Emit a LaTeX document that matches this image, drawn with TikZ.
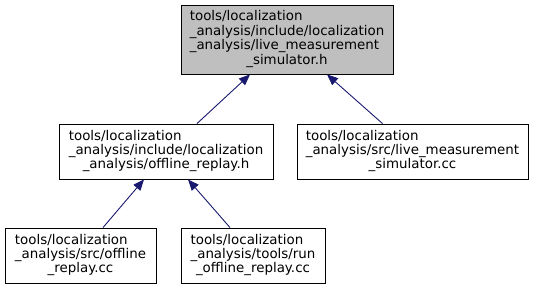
\documentclass[tikz,border=0pt]{standalone}
\usepackage{fontspec}
\setmainfont{DejaVu Sans}
\usetikzlibrary{arrows.meta}

\definecolor{edgeblue}{HTML}{191970}
\definecolor{focusgray}{HTML}{BFBFBF}

% Multi-line file label: all lines left aligned, last line centred
\newcommand{\flabel}[2]{%
  \begin{tabular}{@{}l@{}}#1\\\multicolumn{1}{@{}c@{}}{#2}\end{tabular}}

\tikzset{
  filebox/.style={draw=black, line width=0.9pt, fill=white, inner sep=0pt,
    font=\fontsize{13.4}{14}\selectfont, align=center},
  focusbox/.style={filebox, fill=focusgray},
  dep/.style={draw=edgeblue, line width=0.9pt,
    -{Triangle[length=11pt,width=9pt]}, shorten >=0pt}
}

\begin{document}
\begin{tikzpicture}[x=1pt,y=-1pt]
  \useasboundingbox (0,0) rectangle (534,289);

  \node[focusbox, minimum width=212pt, minimum height=69pt] (live) at (287,39.5)
    {\flabel{tools/localization\\\_analysis/include/localization\\\_analysis/live\_measurement}{\_simulator.h}};

  \node[filebox, minimum width=214pt, minimum height=55pt] (replayh) at (166,151.5)
    {\flabel{tools/localization\\\_analysis/include/localization}{\_analysis/offline\_replay.h}};

  \node[filebox, minimum width=231pt, minimum height=55pt] (livecc) at (412.5,151.5)
    {\flabel{tools/localization\\\_analysis/src/live\_measurement}{\_simulator.cc}};

  \node[filebox, minimum width=151pt, minimum height=55pt] (replaycc) at (80.5,255.5)
    {\flabel{tools/localization\\\_analysis/src/offline}{\_replay.cc}};

  \node[filebox, minimum width=144pt, minimum height=55pt] (runreplay) at (253,255.5)
    {\flabel{tools/localization\\\_analysis/tools/run}{\_offline\_replay.cc}};

  % include dependencies, arrow pointing to the included header
  \draw[dep] ([xshift=31pt]replayh.north) -- ([xshift=-37pt]live.south);
  \draw[dep] ([xshift=-30pt]livecc.north) -- ([xshift=40pt]live.south);
  \draw[dep] ([xshift=22.5pt]replaycc.north) -- ([xshift=-22pt]replayh.south);
  \draw[dep] ([xshift=-23pt]runreplay.north) -- ([xshift=22pt]replayh.south);
\end{tikzpicture}
\end{document}
